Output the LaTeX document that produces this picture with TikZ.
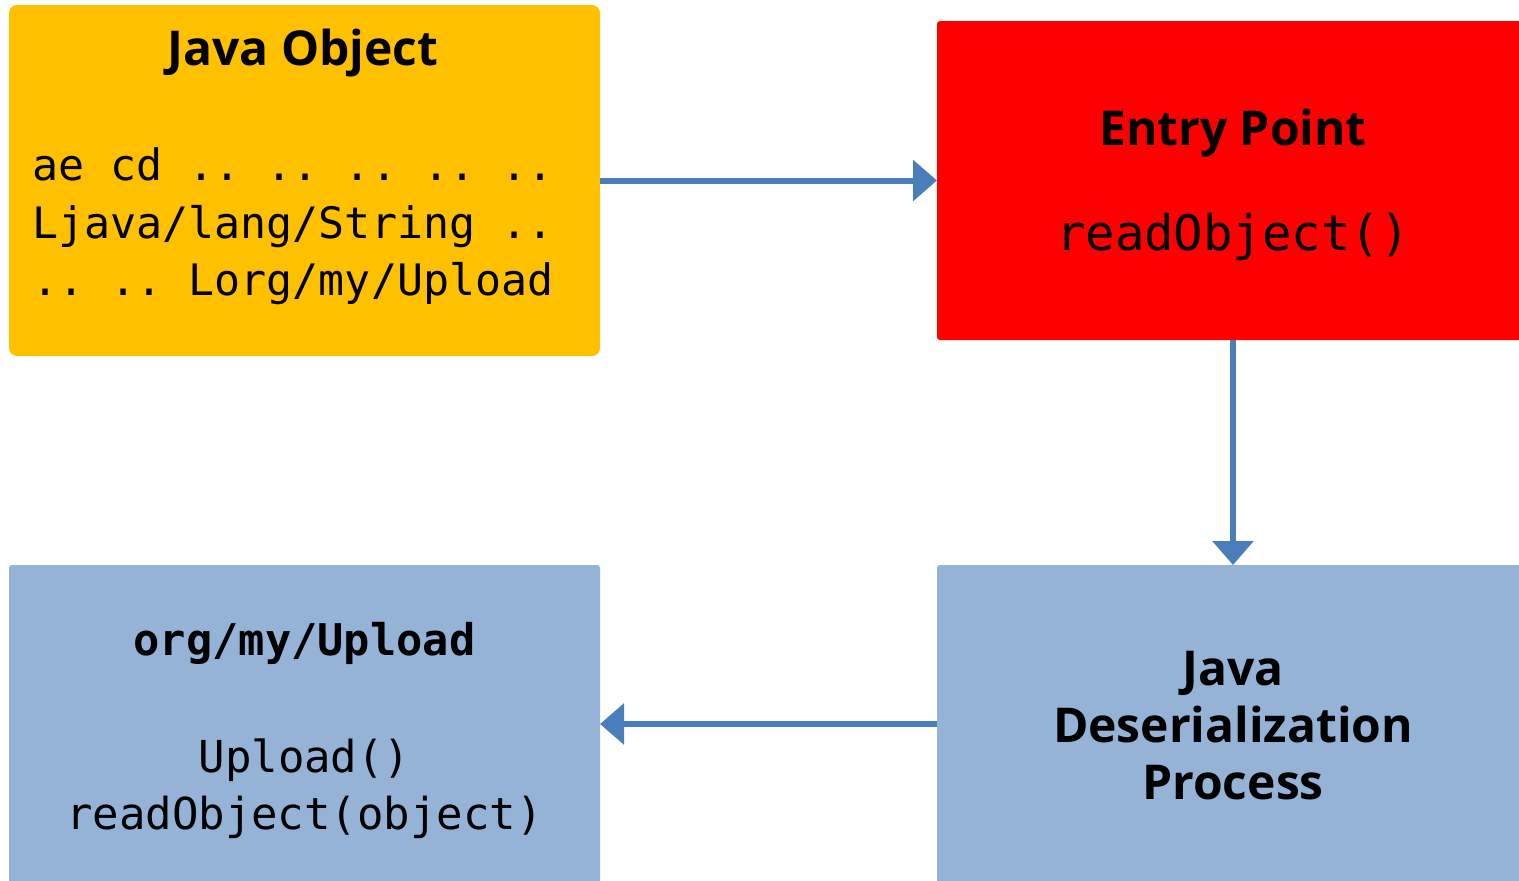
\documentclass[tikz,border=0pt]{standalone}
\usepackage{fontspec}
\usetikzlibrary{arrows.meta}
\newfontfamily\titlefont{Open Sans}
\newfontfamily\monofont{DejaVu Sans Mono}
\definecolor{boxorange}{HTML}{FFC000}
\definecolor{boxred}{HTML}{FF0000}
\definecolor{boxblue}{HTML}{95B3D7}
\definecolor{arrowblue}{HTML}{4A7EBB}
\frenchspacing
\begin{document}
\begin{tikzpicture}[x=1pt,y=-1pt,
  box/.style={draw=none,minimum width=#1,inner sep=0pt,outer sep=0pt},
  ttl/.style={inner sep=0pt,anchor=base,font=\titlefont\bfseries\fontsize{48}{57}\selectfont},
  code/.style={inner sep=0pt,font=\monofont\fontsize{44}{57}\selectfont},
  hexcode/.style={code,anchor=base west,font=\monofont\fontsize{43.3}{57}\selectfont},
  conn/.style={draw=arrowblue,line width=6pt,-{Triangle[width=40pt,length=24pt]}}]
\useasboundingbox (0,0) rectangle (1519,881);
\clip (0,0) rectangle (1519,881);
\node[box=591pt,minimum height=351pt,fill=boxorange,rounded corners=8pt] (jobj) at (304.5,180.5) {};
\node[box=592pt,minimum height=319pt,fill=boxred,rounded corners=3pt] (entry) at (1233,180.5) {};
\node[box=592pt,minimum height=353pt,fill=boxblue,rounded corners=3pt] (deser) at (1233,741.5) {};
\node[box=591pt,minimum height=353pt,fill=boxblue,rounded corners=3pt] (upload) at (304.5,741.5) {};
% texts
\node[ttl] (jobjT) at (303,65) {Java Object};
\node[hexcode] (l1) at (32,180) {ae cd .. .. .. .. ..};
\node[hexcode] (l2) at (32,238) {Ljava/lang/String ..};
\node[hexcode] (l3) at (32,295) {.. .. Lorg/my/Upload};
\node[ttl] (entryT) at (1233,145) {Entry Point};
\node[code,anchor=base,font=\monofont\fontsize{49}{57}\selectfont] (entryC) at (1233,250) {readObject()};
\node[ttl] (d1) at (1233,685) {Java};
\node[ttl] (d2) at (1233,742) {Deserialization};
\node[ttl] (d3) at (1233,799) {Process};
\node[code,anchor=base,font=\monofont\bfseries\fontsize{43.7}{57}\selectfont] (uT) at (304.5,655) {org/my/Upload};
\node[code,anchor=base] (u1) at (304.5,772) {Upload()};
\node[code,anchor=base] (u2) at (304.5,829) {readObject(object)};
% connectors
\draw[conn] (jobj.east) -- (entry.west);
\draw[conn] (entry.south) -- (deser.north);
\draw[conn] ([yshift=17.5pt]deser.west) -- ([yshift=17.5pt]upload.east);
\end{tikzpicture}
\end{document}
